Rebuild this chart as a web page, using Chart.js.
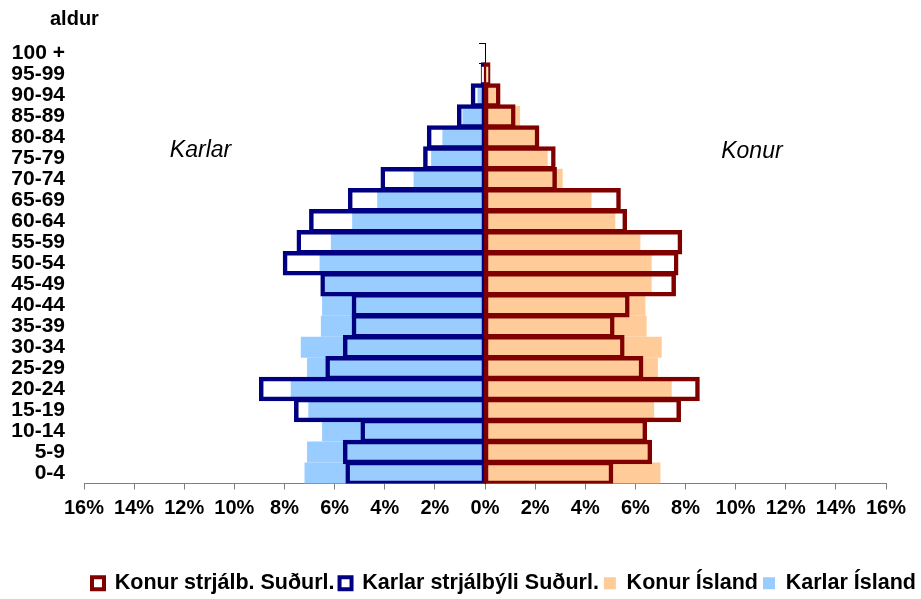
<!DOCTYPE html>
<html>
<head>
<meta charset="utf-8">
<script src="https://cdn.jsdelivr.net/npm/chart.js@4.4.1/dist/chart.umd.min.js"></script>
<style>
  html, body { margin: 0; padding: 0; background: #fff; }
  #wrap { width: 921px; height: 599px; }
</style>
</head>
<body>
<div id="wrap"><canvas id="pyramid" width="921" height="599"></canvas></div>
<script>
// age groups, bottom to top
const ageGroups = ['0-4', '5-9', '10-14', '15-19', '20-24', '25-29', '30-34', '35-39', '40-44', '45-49',
    '50-54', '55-59', '60-64', '65-69', '70-74', '75-79', '80-84', '85-89', '90-94', '95-99', '100 +'];

// % of population in each age group
const konurStrjalb = [5.05, 6.6, 6.4, 7.75, 8.5, 6.25, 5.5, 5.1, 5.7, 7.55, 7.65, 7.8, 5.6, 5.35, 2.8, 2.75, 2.1, 1.15, 0.55, 0.15, 0];
const karlarStrjalb = [5.5, 5.6, 4.9, 7.55, 8.95, 6.3, 5.6, 5.25, 5.25, 6.5, 8.0, 7.45, 6.95, 5.4, 4.1, 2.4, 2.25, 1.05, 0.5, 0.1, 0];
const konurIsland = [7.0, 6.55, 6.35, 6.75, 7.45, 6.9, 7.05, 6.45, 6.4, 6.65, 6.65, 6.2, 5.2, 4.25, 3.1, 2.5, 2.0, 1.4, 0.45, 0.1, 0];
const karlarIsland = [7.2, 7.1, 6.5, 7.05, 7.75, 7.1, 7.35, 6.55, 6.5, 6.4, 6.6, 6.15, 5.3, 4.3, 2.85, 2.15, 1.7, 0.9, 0.3, 0.05, 0];

// x axis ticks (-16 .. 16 step 2)
const xTicks = [-16, -14, -12, -10, -8, -6, -4, -2, 0, 2, 4, 6, 8, 10, 12, 14, 16];

const FONT = '"Liberation Sans", Arial, sans-serif';
const RED = '#800000', NAVY = '#000080', PEACH = '#FFCC99', SKY = '#99CCFF';

const neg = arr => arr.map(v => -v);

// outlined bars: stroke roughly centred on the value edge
const outline = (label, data, color) => ({
    label, data,
    backgroundColor: 'rgba(0,0,0,0)',
    borderColor: color,
    borderWidth: 1,
    inflateAmount: 1.75,
    borderSkipped: false,
    grouped: false,
    barPercentage: 1,
    categoryPercentage: 1
});
const filled = (label, data, color) => ({
    label, data,
    backgroundColor: color,
    borderWidth: 0,
    inflateAmount: 0,
    grouped: false,
    barPercentage: 1,
    categoryPercentage: 1
});

// free text: axis caption and side labels
const textLabels = {
    id: 'textLabels',
    afterDraw(chart) {
        const { ctx, scales } = chart;
        ctx.save();
        ctx.fillStyle = '#000';
        ctx.textBaseline = 'middle';
        ctx.textAlign = 'left';
        ctx.font = 'bold 20px ' + FONT;
        ctx.fillText('aldur', 50, 19);
        ctx.font = 'italic 23px ' + FONT;
        ctx.textAlign = 'center';
        ctx.fillText('Karlar', scales.x.getPixelForValue(-11.35), 151);
        ctx.fillText('Konur', scales.x.getPixelForValue(10.65), 152);
        ctx.restore();
    }
};

new Chart(document.getElementById('pyramid'), {
    type: 'bar',
    data: {
        labels: ageGroups,
        datasets: [
            outline('Konur strjálb. Suðurl.', konurStrjalb, RED),
            outline('Karlar strjálbýli Suðurl.', neg(karlarStrjalb), NAVY),
            filled('Konur Ísland', konurIsland, PEACH),
            filled('Karlar Ísland', neg(karlarIsland), SKY)
        ]
    },
    options: {
        indexAxis: 'y',
        responsive: false,
        animation: false,
        layout: { padding: { top: 43, left: 0, right: 0, bottom: -5 } },
        scales: {
            x: {
                min: -16, max: 16,
                afterBuildTicks: axis => { axis.ticks = xTicks.map(v => ({ value: v })); },
                afterFit: axis => { axis.height = 84; },
                grid: { drawOnChartArea: false, drawTicks: true, tickLength: 6, color: '#808080' },
                border: { color: '#808080', width: 1 },
                ticks: {
                    padding: 7,
                    color: '#000',
                    font: { family: FONT, size: 20, weight: 'bold' },
                    maxRotation: 0,
                    autoSkip: false,
                    callback: v => Math.abs(v) + '%'
                }
            },
            y: {
                reverse: true,
                afterFit: axis => { axis.width = 84; },
                grid: { display: false, drawTicks: false },
                border: { display: false },
                ticks: {
                    padding: 19,
                    autoSkip: false,
                    color: '#000',
                    font: { family: FONT, size: 21, weight: 'bold', lineHeight: 1 }
                }
            },
            yc: {
                type: 'category',
                axis: 'y',
                labels: ageGroups,
                reverse: true,
                position: { x: 0 },
                grid: { drawOnChartArea: false, drawTicks: true, tickLength: 6, color: '#000', offset: true },
                border: { color: '#000', width: 1 },
                ticks: { display: false }
            },
            yr: {
                type: 'linear',
                axis: 'y',
                position: 'right',
                afterFit: axis => { axis.width = 35; },
                grid: { display: false },
                border: { display: false },
                ticks: { display: false }
            }
        },
        plugins: {
            legend: {
                position: 'bottom',
                align: 'end',
                labels: {
                    padding: 5,
                    boxWidth: 12,
                    boxHeight: 12,
                    color: '#000',
                    font: { family: FONT, size: 21.5, weight: 'bold', lineHeight: 1 },
                    generateLabels(chart) {
                        return chart.data.datasets.map((ds, i) => {
                            const isOutline = ds.borderWidth > 0;
                            return {
                                text: ds.label,
                                fillStyle: isOutline ? '#fff' : ds.backgroundColor,
                                strokeStyle: isOutline ? ds.borderColor : ds.backgroundColor,
                                lineWidth: isOutline ? 4 : 0,
                                datasetIndex: i,
                                hidden: false
                            };
                        });
                    }
                }
            },
            tooltip: { enabled: false }
        }
    },
    plugins: [textLabels]
});
</script>
</body>
</html>
